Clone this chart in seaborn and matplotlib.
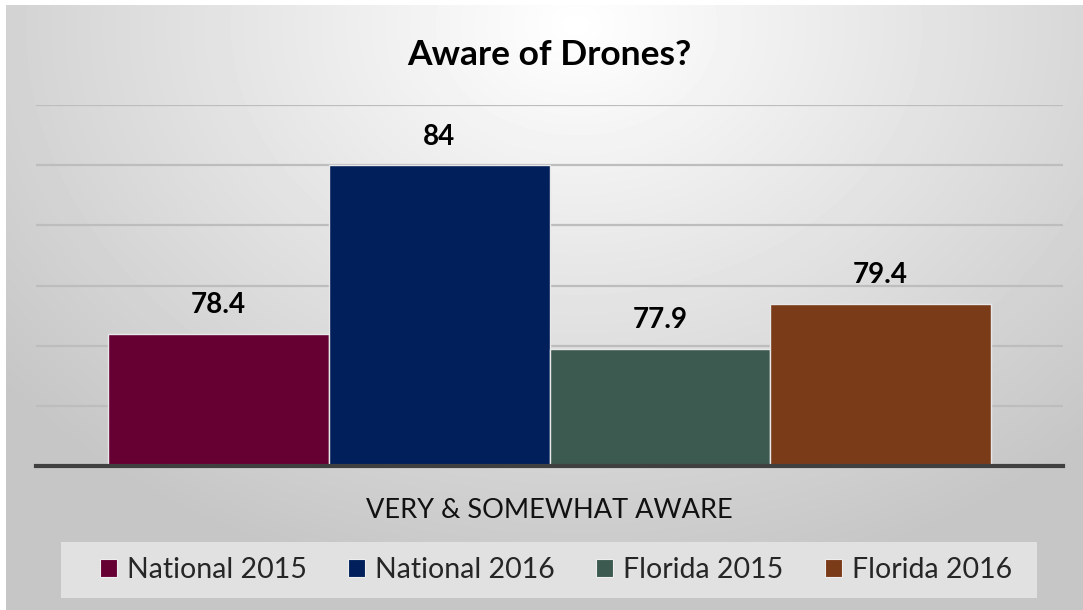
import numpy as np
import pandas as pd
import matplotlib
matplotlib.use("Agg")
import matplotlib.pyplot as plt
import seaborn as sns
from matplotlib.patches import Patch, Rectangle

# Survey results: share aware of drones
category = ["VERY & SOMEWHAT AWARE"]
series = ["National 2015", "National 2016", "Florida 2015", "Florida 2016"]
values = [78.4, 84, 77.9, 79.4]
colors = ["#660033", "#001F5B", "#3D5A50", "#7A3B19"]

df = pd.DataFrame({
    "group": category * len(series),
    "series": series,
    "value": values,
})

sns.set_theme(style="white")
plt.rcParams["font.family"] = ["Lato", "DejaVu Sans"]

W, H = 1083, 610
fig = plt.figure(figsize=(W / 100, H / 100), dpi=100)
fig.patch.set_facecolor("white")

# Soft radial gradient behind the whole chart
bg = fig.add_axes([6 / W, 0, (W - 6) / W, (H - 5) / H], zorder=-10)
yy, xx = np.mgrid[0:H - 5, 0:W - 6]
cx, cy = 570.0, 20.0
d = np.sqrt(((xx - cx) / 950.0) ** 2 + ((yy - cy) / 740.0) ** 2)
shade = np.clip(1.0 - 0.29 * d, 0.775, 1.0)
bg.imshow(shade, cmap="gray", vmin=0, vmax=1, aspect="auto",
          interpolation="bilinear", origin="upper")
bg.set_axis_off()

# Legend panel
fig.patches.append(Rectangle((61 / W, (H - 598) / H), 976 / W, 56 / H,
                             transform=fig.transFigure, facecolor="#e1e1e1",
                             edgecolor="none", zorder=-5))

ax = fig.add_axes([36 / W, (H - 466) / H, 1027 / W, (466 - 105) / H])
ax.patch.set_alpha(0)

sns.barplot(data=df, x="group", y="value", hue="series", palette=colors,
            hue_order=series, width=0.86, ax=ax, legend=False,
            edgecolor="#e8e8e8", linewidth=1.0, saturation=1)

ax.set_ylim(74, 86)
ax.set_yticks(np.arange(74, 87, 2))
ax.yaxis.grid(True, color="#bdbdbd", linewidth=1.6)
ax.set_axisbelow(True)
ax.tick_params(axis="y", left=False, labelleft=False)
ax.tick_params(axis="x", bottom=False, labelsize=19.5, pad=17, colors="#111111")
for side in ["top", "right", "left"]:
    ax.spines[side].set_visible(False)
ax.spines["bottom"].set_color("#404040")
ax.spines["bottom"].set_linewidth(3)
ax.set_xlabel("")
ax.set_ylabel("")

for cont in ax.containers:
    ax.bar_label(cont, labels=[f"{v:g}" for v in cont.datavalues],
                 padding=11, fontsize=20, fontweight="bold", color="#000000")

fig.text(549 / W, 1 - 55 / H, "Aware of Drones?", ha="center", va="center",
         fontsize=25.5, fontweight="bold", color="#000000")

handles = [Patch(facecolor=c, edgecolor="#eeeeee", linewidth=0.8) for c in colors]
leg = fig.legend(handles, series, loc="center", ncol=4,
                 bbox_to_anchor=(556 / W, 1 - 570 / H), frameon=False,
                 fontsize=20.5, handlelength=0.6, handleheight=0.6,
                 handletextpad=0.35, columnspacing=1.45, borderpad=0.3)

fig.savefig("out.png", dpi=100, facecolor=fig.get_facecolor())
